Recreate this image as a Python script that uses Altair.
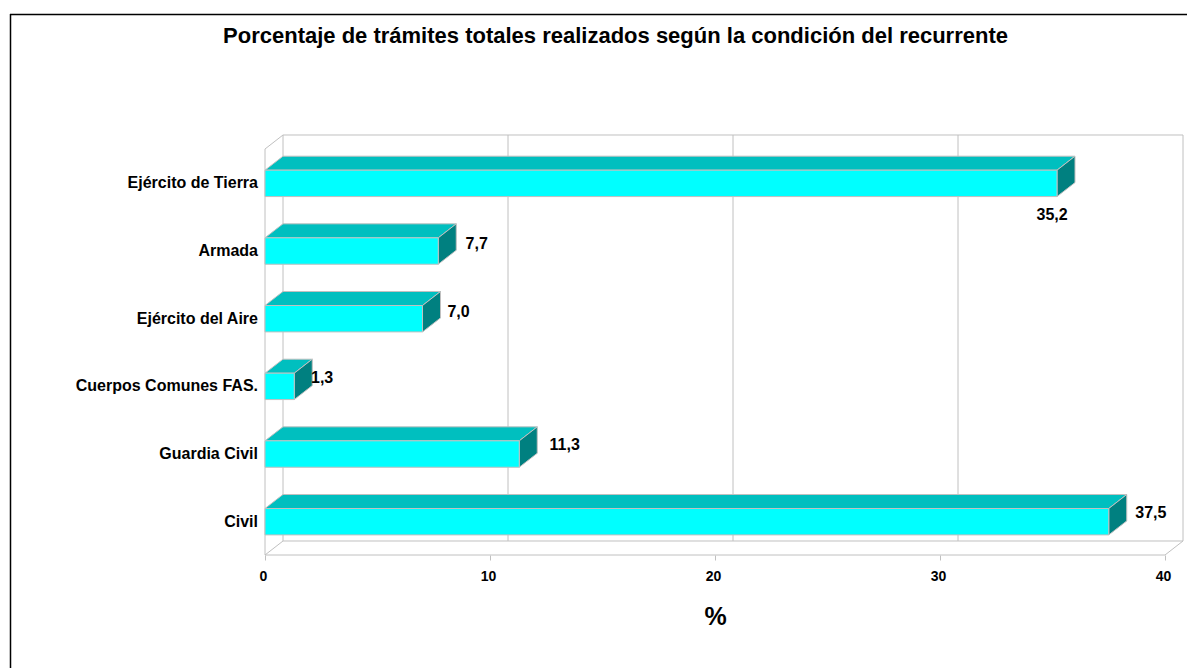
import altair as alt
import pandas as pd

categories = ["Ejército de Tierra", "Armada", "Ejército del Aire",
              "Cuerpos Comunes FAS.", "Guardia Civil", "Civil"]
values = [35.2, 7.7, 7.0, 1.3, 11.3, 37.5]
value_labels = ["35,2", "7,7", "7,0", "1,3", "11,3", "37,5"]
x_ticks = [0, 10, 20, 30, 40]
title_text = "Porcentaje de trámites totales realizados según la condición del recurrente"

# layout of the pseudo-3D box, in axis units
DX = 0.8      # depth along x (% units)
DY = 0.207    # depth along y (category slots)
HALF = 0.195  # half bar thickness (category slots)
MID = 0.508   # bar centre inside its category slot
X_MAX = 40
N = len(categories)
# data label centre offsets from the bar end / bar centre, in axis units
LX = [-0.22, 1.71, 1.60, 1.24, 2.02, 1.87]
LY = [0.46, -0.10, -0.10, -0.12, -0.13, -0.13]

W, H = 1179, 660
GRAY = "#c0c0c0"
FONT = "Liberation Sans"

x_scale = alt.Scale(domain=[0, X_MAX], range=[257, 1157], clamp=False, nice=False, zero=False)
y_scale = alt.Scale(domain=[0, N], range=[141, 547], clamp=False, nice=False, zero=False)
x_axis = alt.Axis(
    values=x_ticks, format="d", domain=False, grid=False,
    tickColor=GRAY, tickSize=5, tickOpacity=1,
    labelFont=FONT, labelFontWeight="bold", labelFontSize=14, labelColor="black",
    labelPadding=9, labelFlush=False, labelOffset=-2,
    titleFont=FONT, titleFontWeight="bold", titleFontSize=25, titleColor="black",
    titlePadding=21, offset=547 - H)
X = lambda f: alt.X(f, type="quantitative", scale=x_scale, axis=x_axis, title="%")
Y = lambda f: alt.Y(f, type="quantitative", scale=y_scale, axis=None)

# frame of the picture
frame = pd.DataFrame({"a": [0]})
frame_top = alt.Chart(frame).mark_rule(color="black", strokeWidth=1.5).encode(
    x=alt.value(2), x2=alt.value(W), y=alt.value(6.5))
frame_left = alt.Chart(frame).mark_rule(color="black", strokeWidth=1.5).encode(
    x=alt.value(2.5), y=alt.value(6), y2=alt.value(H))

# walls and gridlines
wall_rows = []
def seg(name, pts):
    for i, (a, b) in enumerate(pts):
        wall_rows.append({"s": name, "o": i, "x": a, "y": b})
for t in x_ticks:
    seg(f"g{t}", [(t + DX, -DY), (t + DX, N - DY)])
seg("top", [(0, 0), (DX, -DY), (X_MAX + DX, -DY)])
seg("left", [(0, 0), (0, N)])
seg("floorback", [(DX, N - DY), (X_MAX + DX, N - DY)])
seg("floorfront", [(0, N), (X_MAX, N)])
seg("diag0", [(0, N), (DX, N - DY)])
seg("diag1", [(X_MAX, N), (X_MAX + DX, N - DY)])
walls = alt.Chart(pd.DataFrame(wall_rows)).mark_line(color=GRAY, strokeWidth=1).encode(
    x=X("x"), y=Y("y"), detail="s:N", order="o:Q")

# bars
top_rows, side_rows, front_rows = [], [], []
for i, (c, v) in enumerate(zip(categories, values)):
    yt = i + MID - HALF
    yb = i + MID + HALF
    front_rows.append({"c": c, "x0": 0, "x1": v, "y0": yt, "y1": yb})
    for x, y, y2 in [(0, yt, yt), (DX, yt - DY, yt), (v, yt - DY, yt), (v + DX, yt - DY, yt - DY)]:
        top_rows.append({"c": c, "x": x, "y": y, "y2": y2})
    for x, y, y2 in [(v, yt, yb), (v + DX, yt - DY, yb - DY)]:
        side_rows.append({"c": c, "x": x, "y": y, "y2": y2})

top = alt.Chart(pd.DataFrame(top_rows)).mark_area(
    color="#00bfbf", stroke=GRAY, strokeWidth=1, opacity=1).encode(
    x=X("x"), y=Y("y"), y2="y2:Q", detail="c:N")
side = alt.Chart(pd.DataFrame(side_rows)).mark_area(
    color="#008080", stroke=GRAY, strokeWidth=1, opacity=1).encode(
    x=X("x"), y=Y("y"), y2="y2:Q", detail="c:N")
front = alt.Chart(pd.DataFrame(front_rows)).mark_rect(
    color="#00ffff", stroke=GRAY, strokeWidth=1).encode(
    x=X("x0"), x2="x1:Q", y=Y("y0"), y2="y1:Q")

# value labels
lab = pd.DataFrame({
    "t": value_labels,
    "x": [v + d for v, d in zip(values, LX)],
    "y": [i + MID + d for i, d in enumerate(LY)],
})
val_text = alt.Chart(lab).mark_text(
    font=FONT, fontWeight="bold", fontSize=16, align="center", baseline="middle", color="black").encode(
    x=X("x"), y=Y("y"), text="t:N")

# category labels
cat = pd.DataFrame({"c": categories, "x": [0] * N, "y": [i + MID for i in range(N)]})
cat_text = alt.Chart(cat).mark_text(
    font=FONT, fontWeight="bold", fontSize=16, align="right", baseline="middle", dx=-7, color="black").encode(
    x=X("x"), y=Y("y"), text="c:N")

chart = alt.layer(frame_top, frame_left, walls, top, side, front, val_text, cat_text).properties(
    width=W, height=H, padding=0, autosize=alt.AutoSizeParams(type="none"),
    background="white",
    title=alt.TitleParams(title_text, font=FONT, fontWeight="bold", fontSize=22, color="black",
                          anchor="middle", frame="group", dx=18, dy=40, offset=0),
).configure_view(stroke=None)

chart.save("out.html", embed_options={"renderer": "svg", "actions": False})
